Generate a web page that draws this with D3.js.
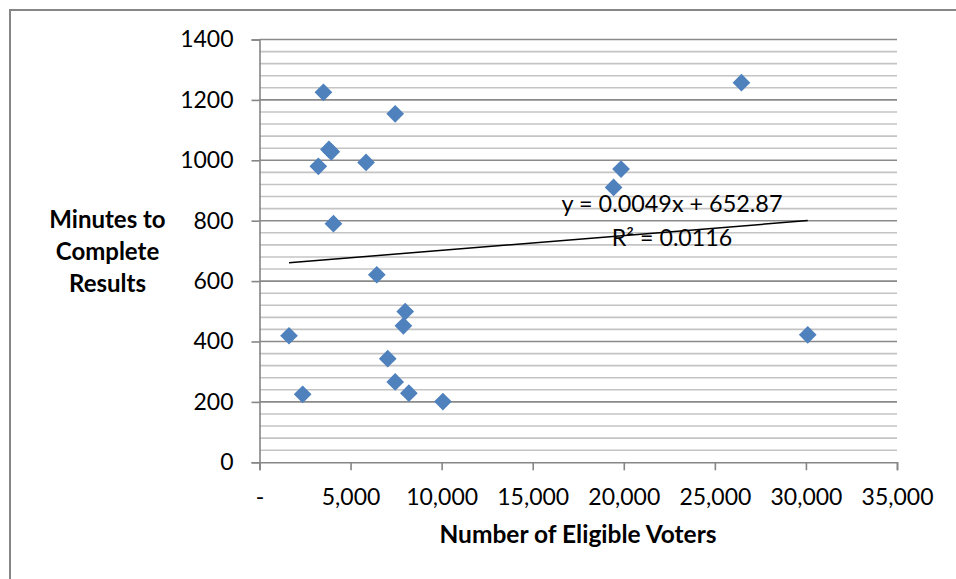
<!DOCTYPE html>
<html>
<head>
<meta charset="utf-8">
<script src="https://cdn.jsdelivr.net/npm/d3@7"></script>
<style>
  html, body { margin: 0; padding: 0; background: #fff; }
  svg { display: block; }
  text { font-family: Lato, "Open Sans", sans-serif; fill: #000; }
</style>
</head>
<body>
<svg id="chart" width="956" height="579"></svg>
<script>
// Eligible voters and minutes taken to complete results, one entry per precinct
const voters  = [1620, 2370, 3230, 3510, 3810, 3940, 4060, 5850, 6440, 7040,
                 7450, 7450, 7900, 8000, 8200, 10070, 19440, 19850, 26460, 30100];
const minutes = [419, 225, 980, 1225, 1036, 1028, 790, 993, 621, 343,
                 266, 1154, 452, 499, 229, 201, 910, 971, 1257, 422];

// Linear trendline as reported on the chart
const trendSlope = 0.0049;
const trendIntercept = 652.87;
const trendEquation = "y = 0.0049x + 652.87";
const trendR2 = "0.0116";

// Axis ticks
const xTicks = [0, 5000, 10000, 15000, 20000, 25000, 30000, 35000];
const yTicks = [0, 200, 400, 600, 800, 1000, 1200, 1400];
const yMinorStep = 40;

const xTitle = "Number of Eligible Voters";
const yTitleLines = ["Minutes to", "Complete", "Results"];

const svg = d3.select("#chart");
const axisColor = "#868686";

// outer chart frame
svg.append("rect")
  .attr("x", 10).attr("y", 10)
  .attr("width", 980).attr("height", 620)
  .attr("fill", "none")
  .attr("stroke", axisColor)
  .attr("stroke-width", 2);

const x = d3.scaleLinear().domain([0, 35000]).range([259.5, 897]);
const y = d3.scaleLinear().domain([0, 1400]).range([462.3, 39.5]);

// horizontal gridlines: minor every 40, major every 200
const gridVals = d3.range(yMinorStep, 1400 + 1, yMinorStep);
svg.append("g").selectAll("line")
  .data(gridVals)
  .join("line")
  .attr("x1", x(0)).attr("x2", x(35000))
  .attr("y1", d => y(d)).attr("y2", d => y(d))
  .attr("stroke", d => d % 200 === 0 ? "#8a8a8a" : "#c4c4c4")
  .attr("stroke-width", 1.6);

// x axis
const fmt = d3.format(",");
const xAxis = svg.append("g")
  .attr("transform", `translate(0,${y(0)})`)
  .call(d3.axisBottom(x)
    .tickValues(xTicks)
    .tickSize(8)
    .tickPadding(18)
    .tickFormat(d => d === 0 ? "-" : fmt(d)));
xAxis.select(".domain").attr("stroke", axisColor).attr("stroke-width", 1.6);
xAxis.selectAll(".tick line").attr("stroke", axisColor).attr("stroke-width", 1.6);
xAxis.selectAll(".tick text")
  .attr("font-size", 23)
  .style("font-family", "Lato, sans-serif")
  .attr("fill", "#000");

// y axis
const yAxis = svg.append("g")
  .attr("transform", `translate(${x(0)},0)`)
  .call(d3.axisLeft(y)
    .tickValues(yTicks)
    .tickSize(8)
    .tickPadding(18)
    .tickFormat(d3.format("d")));
yAxis.select(".domain").attr("stroke", axisColor).attr("stroke-width", 1.6);
yAxis.selectAll(".tick line").attr("stroke", axisColor).attr("stroke-width", 1.6);
yAxis.selectAll(".tick text")
  .attr("font-size", 23)
  .style("font-family", "Lato, sans-serif")
  .attr("fill", "#000");

// axis titles
svg.append("text")
  .attr("x", 578).attr("y", 543)
  .attr("text-anchor", "middle")
  .attr("font-size", 24.5)
  .attr("font-weight", "bold")
  .text(xTitle);

svg.append("text")
  .attr("text-anchor", "middle")
  .attr("font-size", 24)
  .attr("font-weight", "bold")
  .selectAll("tspan")
  .data(yTitleLines)
  .join("tspan")
  .attr("x", 107.5)
  .attr("y", (d, i) => 228 + i * 32)
  .text(d => d);

// data points as diamonds
const pts = voters.map((v, i) => ({ v, m: minutes[i] }));
const diamond = d3.symbol().type(d3.symbolDiamond2).size(200);
svg.append("g").selectAll("path")
  .data(pts)
  .join("path")
  .attr("transform", d => `translate(${x(d.v)},${y(d.m)})`)
  .attr("d", diamond)
  .attr("fill", "#4f81bd");

// trendline across the range of the data
const xMin = d3.min(voters), xMax = d3.max(voters);
svg.append("line")
  .attr("x1", x(xMin)).attr("y1", y(trendSlope * xMin + trendIntercept))
  .attr("x2", x(xMax)).attr("y2", y(trendSlope * xMax + trendIntercept))
  .attr("stroke", "#000")
  .attr("stroke-width", 1.5);

// trendline equation and R²
svg.append("text")
  .attr("x", 672).attr("y", 212)
  .attr("text-anchor", "middle")
  .attr("font-size", 23.4)
  .text(trendEquation);
svg.append("text")
  .attr("x", 672).attr("y", 245.5)
  .attr("text-anchor", "middle")
  .attr("font-size", 23.2)
  .text("R² = " + trendR2);
</script>
</body>
</html>
